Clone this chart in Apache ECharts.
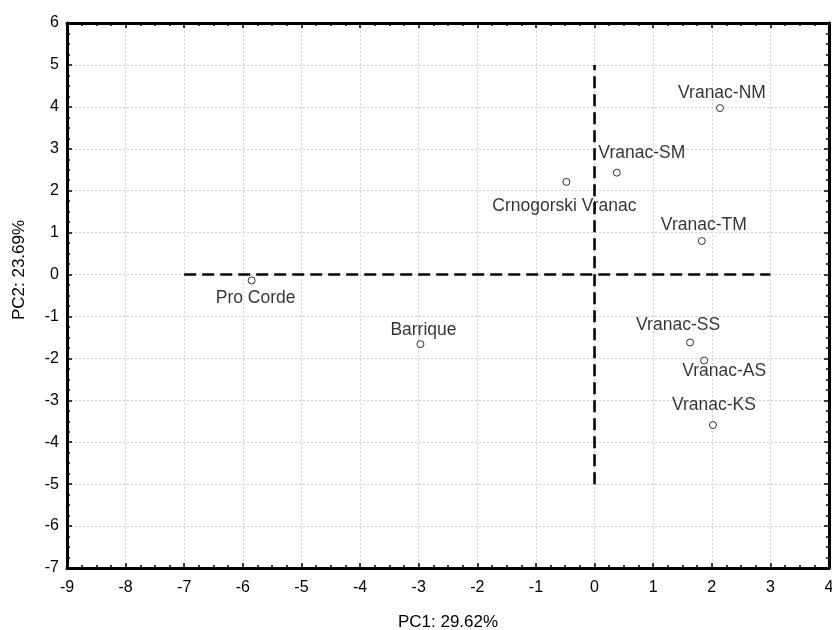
<!DOCTYPE html>
<html>
<head>
<meta charset="utf-8">
<script src="https://cdn.jsdelivr.net/npm/echarts@6/dist/echarts.min.js"></script>
<style>
html,body{margin:0;padding:0;background:#fff}
#main{width:832px;height:630px}
</style>
</head>
<body>
<div id="main"></div>
<script>
// PCA scores
var names = ['Vranac-NM', 'Vranac-SM', 'Crnogorski Vranac', 'Vranac-TM', 'Pro Corde', 'Barrique', 'Vranac-SS', 'Vranac-AS', 'Vranac-KS'];
var pc1 = [2.14, 0.38, -0.48, 1.83, -5.85, -2.97, 1.63, 1.87, 2.02];
var pc2 = [3.97, 2.43, 2.21, 0.80, -0.14, -1.66, -1.62, -2.05, -3.59];
// dashed reference axes
var hLine = [[-7, 0], [3, 0]];
var vLine = [[0, -5], [0, 5]];
// label offsets (px) from each point
var labelOffsets = [[2, -15], [25, -19], [-2, 24], [2, -16], [4, 18], [3, -14], [-12, -17], [20, 11], [1, -20]];

var FONT = "'Liberation Sans', Arial, sans-serif";

var myChart = echarts.init(document.getElementById('main'));

var pts = [];
for (var i = 0; i < names.length; i++) {
    pts.push({
        name: names[i],
        value: [pc1[i], pc2[i]],
        label: {offset: labelOffsets[i]}
    });
}

function frameAxis(base) {
    var a = {
        min: base.min, max: base.max, interval: 1,
        axisLine: {show: true, onZero: false, lineStyle: {color: '#000', width: 3}},
        axisTick: {show: true, inside: true, length: 5, lineStyle: {color: '#000', width: 1.5}},
        minorTick: {show: true, splitNumber: 4, length: 3, lineStyle: {color: '#000', width: 1.5}},
        splitLine: {show: false},
        axisLabel: {show: false}
    };
    for (var k in base) a[k] = base[k];
    return a;
}

var gridLine = {show: true, lineStyle: {color: '#d2d2d2', width: 1, type: [2, 2]}};

option = {
    animation: false,
    backgroundColor: '#fff',
    grid: {left: 67, right: 3, top: 23, bottom: 62, outerBoundsMode: 'none', containLabel: false},
    xAxis: [
        frameAxis({min: -9, max: 4, position: 'bottom', splitLine: gridLine,
            axisLabel: {show: true, margin: 12, fontSize: 16, color: '#000', fontFamily: FONT}}),
        frameAxis({min: -9, max: 4, position: 'top'})
    ],
    yAxis: [
        frameAxis({min: -7, max: 6, position: 'left', splitLine: gridLine,
            axisLabel: {show: true, margin: 8, fontSize: 16, color: '#000', fontFamily: FONT}}),
        frameAxis({min: -7, max: 6, position: 'right'})
    ],
    graphic: [{
        type: 'text', x: 448, y: 622,
        style: {text: 'PC1: 29.62%', fontSize: 17, fontFamily: FONT, fill: '#000', align: 'center', verticalAlign: 'middle'}
    }, {
        type: 'text', x: 19, y: 270, rotation: Math.PI / 2,
        style: {text: 'PC2: 23.69%', fontSize: 17, fontFamily: FONT, fill: '#000', align: 'center', verticalAlign: 'middle'}
    }],
    series: [{
        type: 'line', data: hLine, symbol: 'none', silent: true, z: 3,
        lineStyle: {color: '#000', width: 2.6, type: [12, 6]}
    }, {
        type: 'line', data: vLine, symbol: 'none', silent: true, z: 3,
        lineStyle: {color: '#000', width: 2.6, type: [12, 6]}
    }, {
        type: 'scatter', data: pts, z: 2,
        symbol: 'circle', symbolSize: 7,
        itemStyle: {color: '#fff', borderColor: '#000', borderWidth: 1},
        label: {
            show: true, position: 'inside', formatter: '{b}',
            color: '#000', fontSize: 17.5, fontFamily: FONT,
            align: 'center', verticalAlign: 'middle'
        }
    }]
};
myChart.setOption(option);
window.addEventListener("resize", function () {
    myChart.resize();
});
</script>
</body>
</html>
